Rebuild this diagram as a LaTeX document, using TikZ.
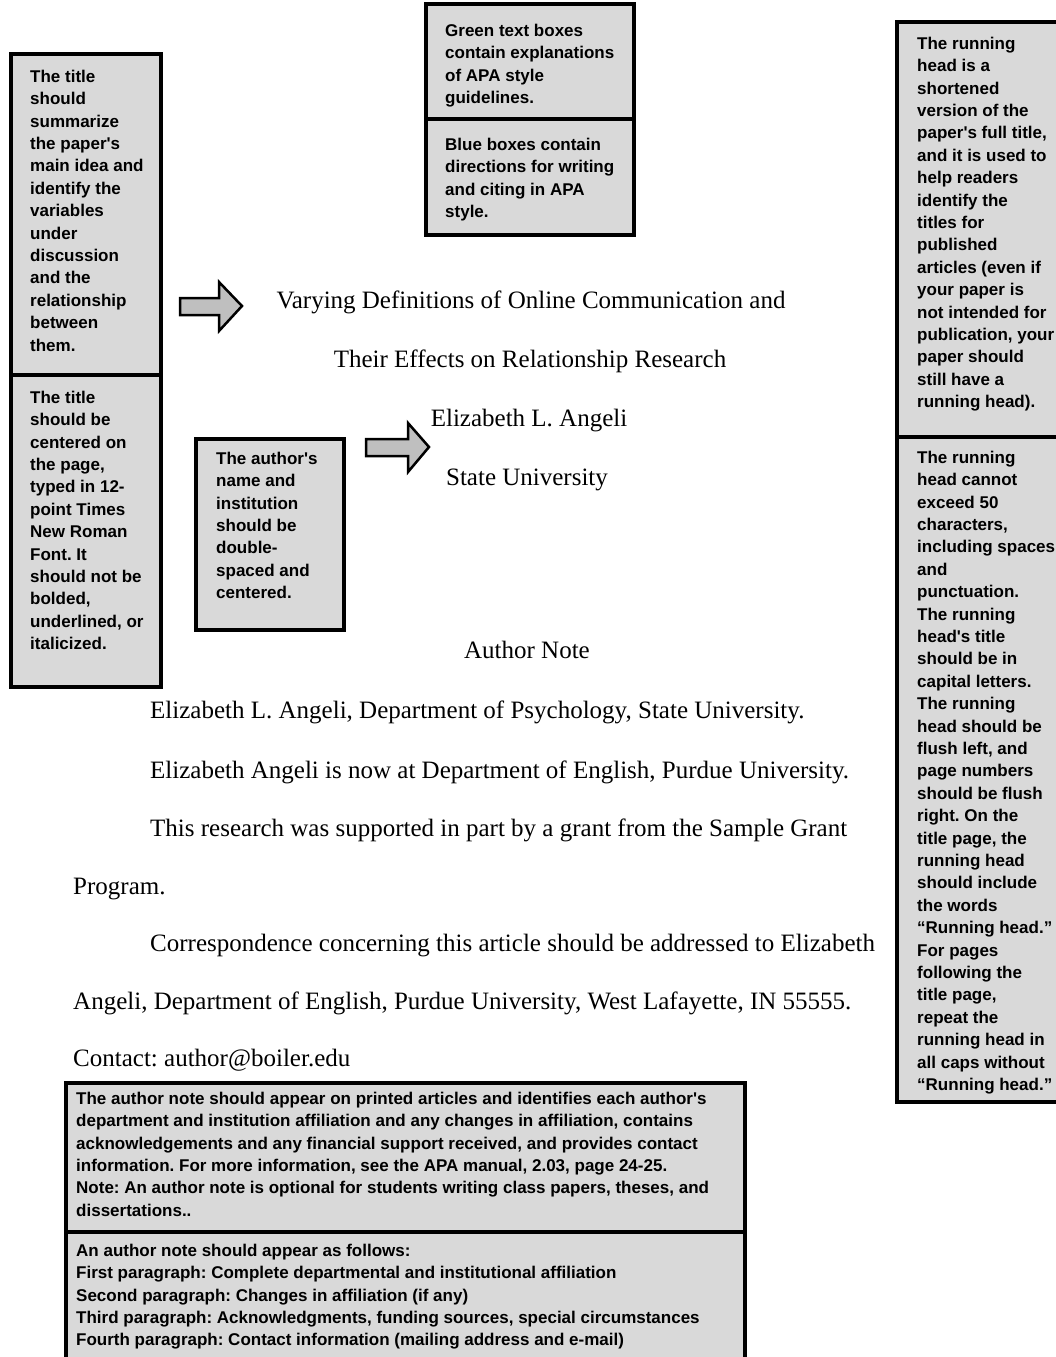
\documentclass[tikz,border=0pt]{standalone}
\usepackage{fontspec}
\setmainfont{Liberation Serif}
\newfontfamily\boxfont{Liberation Sans}
\frenchspacing
\begin{document}
\frenchspacing
\begin{tikzpicture}[x=1pt,y=-1pt,
  box/.style={draw=black, line width=4pt, fill=black!15},
  divider/.style={draw=black, line width=4pt},
  boxtxt/.style={anchor=north west, inner sep=0pt, align=left, font=\boxfont\bfseries\fontsize{17}{22.4}\selectfont},
  body/.style={inner sep=0pt, font=\fontsize{25}{30}\selectfont},
  barrow/.style={draw=black, line width=2.5pt, fill=black!25, line join=miter}]
\useasboundingbox[fill=white] (0,0) rectangle (1055,1357);
\newcommand{\st}{\rule{0pt}{13pt}}
% left box
\draw[box] (11,54) rectangle (161,687);
\draw[divider] (11,375) -- (161,375);
\node[boxtxt] (ltA) at (30,69) {\st The title\\should\\summarize\\the paper's\\main idea and\\identify the\\variables\\under\\discussion\\and the\\relationship\\between\\them.};
\node[boxtxt] (ltB) at (30,390) {\st The title\\should be\\centered on\\the page,\\typed in 12-\\point Times\\New Roman\\Font. It\\should not be\\bolded,\\underlined, or\\italicized.};
% top box
\draw[box] (426,4) rectangle (634,235);
\draw[divider] (426,119) -- (634,119);
\node[boxtxt] (tpA) at (445,23) {\st Green text boxes\\contain explanations\\of APA style\\guidelines.};
\node[boxtxt] (tpB) at (445,137) {\st Blue boxes contain\\directions for writing\\and citing in APA\\style.};
% author box
\draw[box] (196,439) rectangle (344,630);
\node[boxtxt] (au) at (216,451) {\st The author's\\name and\\institution\\should be\\double-\\spaced and\\centered.};
% right box
\draw[box] (897,22) rectangle (1062,1102);
\draw[divider] (897,437) -- (1062,437);
\node[boxtxt] (rtA) at (917,36) {\st The running\\head is a\\shortened\\version of the\\paper's full title,\\and it is used to\\help readers\\identify the\\titles for\\published\\articles (even if\\your paper is\\not intended for\\publication, your\\paper should\\still have a\\running head).};
\node[boxtxt] (rtB) at (917,450) {\st The running\\head cannot\\exceed 50\\characters,\\including spaces\\and\\punctuation.\\The running\\head's title\\should be in\\capital letters.\\The running\\head should be\\flush left, and\\page numbers\\should be flush\\right. On the\\title page, the\\running head\\should include\\the words\\“Running head.”\\For pages\\following the\\title page,\\repeat the\\running head in\\all caps without\\“Running head.”};
% bottom box
\draw[box] (66,1083) rectangle (745,1362);
\draw[divider] (66,1232) -- (745,1232);
\node[boxtxt] (btA) at (76,1091) {\st The author note should appear on printed articles and identifies each author's\\department and institution affiliation and any changes in affiliation, contains\\acknowledgements and any financial support received, and provides contact\\information. For more information, see the APA manual, 2.03, page 24-25.\\Note: An author note is optional for students writing class papers, theses, and\\dissertations..};
\node[boxtxt] (btB) at (76,1243) {\st An author note should appear as follows:\\First paragraph: Complete departmental and institutional affiliation\\Second paragraph: Changes in affiliation (if any)\\Third paragraph: Acknowledgments, funding sources, special circumstances\\Fourth paragraph: Contact information (mailing address and e-mail)};
% arrows
\draw[barrow] (180,298) -- (219,298) -- (219,282) -- (242,306) -- (219,331) -- (219,315) -- (180,315) -- cycle;
\draw[barrow] (366,439) -- (408,439) -- (408,423) -- (429,447) -- (408,472) -- (408,456) -- (366,456) -- cycle;
% body text
\node[body, anchor=base] (t1) at (531,308) {Varying Definitions of Online Communication and};
\node[body, anchor=base] (t2) at (530,367) {Their Effects on Relationship Research};
\node[body, anchor=base] (t3) at (529,426) {Elizabeth L. Angeli};
\node[body, anchor=base] (t4) at (527,485) {State University};
\node[body, anchor=base] (t5) at (527,658) {Author Note};
\node[body, anchor=base west] (p1) at (150,718) {Elizabeth L. Angeli, Department of Psychology, State University.};
\node[body, anchor=base west] (p2) at (150,778) {Elizabeth Angeli is now at Department of English, Purdue University.};
\node[body, anchor=base west] (p3) at (150,836) {This research was supported in part by a grant from the Sample Grant};
\node[body, anchor=base west] (p4) at (73,894) {Program.};
\node[body, anchor=base west] (p5) at (150,951) {Correspondence concerning this article should be addressed to Elizabeth};
\node[body, anchor=base west] (p6) at (73,1009) {Angeli, Department of English, Purdue University, West Lafayette, IN 55555.};
\node[body, anchor=base west] (p7) at (73,1066) {Contact: author@boiler.edu};
\end{tikzpicture}
\end{document}
